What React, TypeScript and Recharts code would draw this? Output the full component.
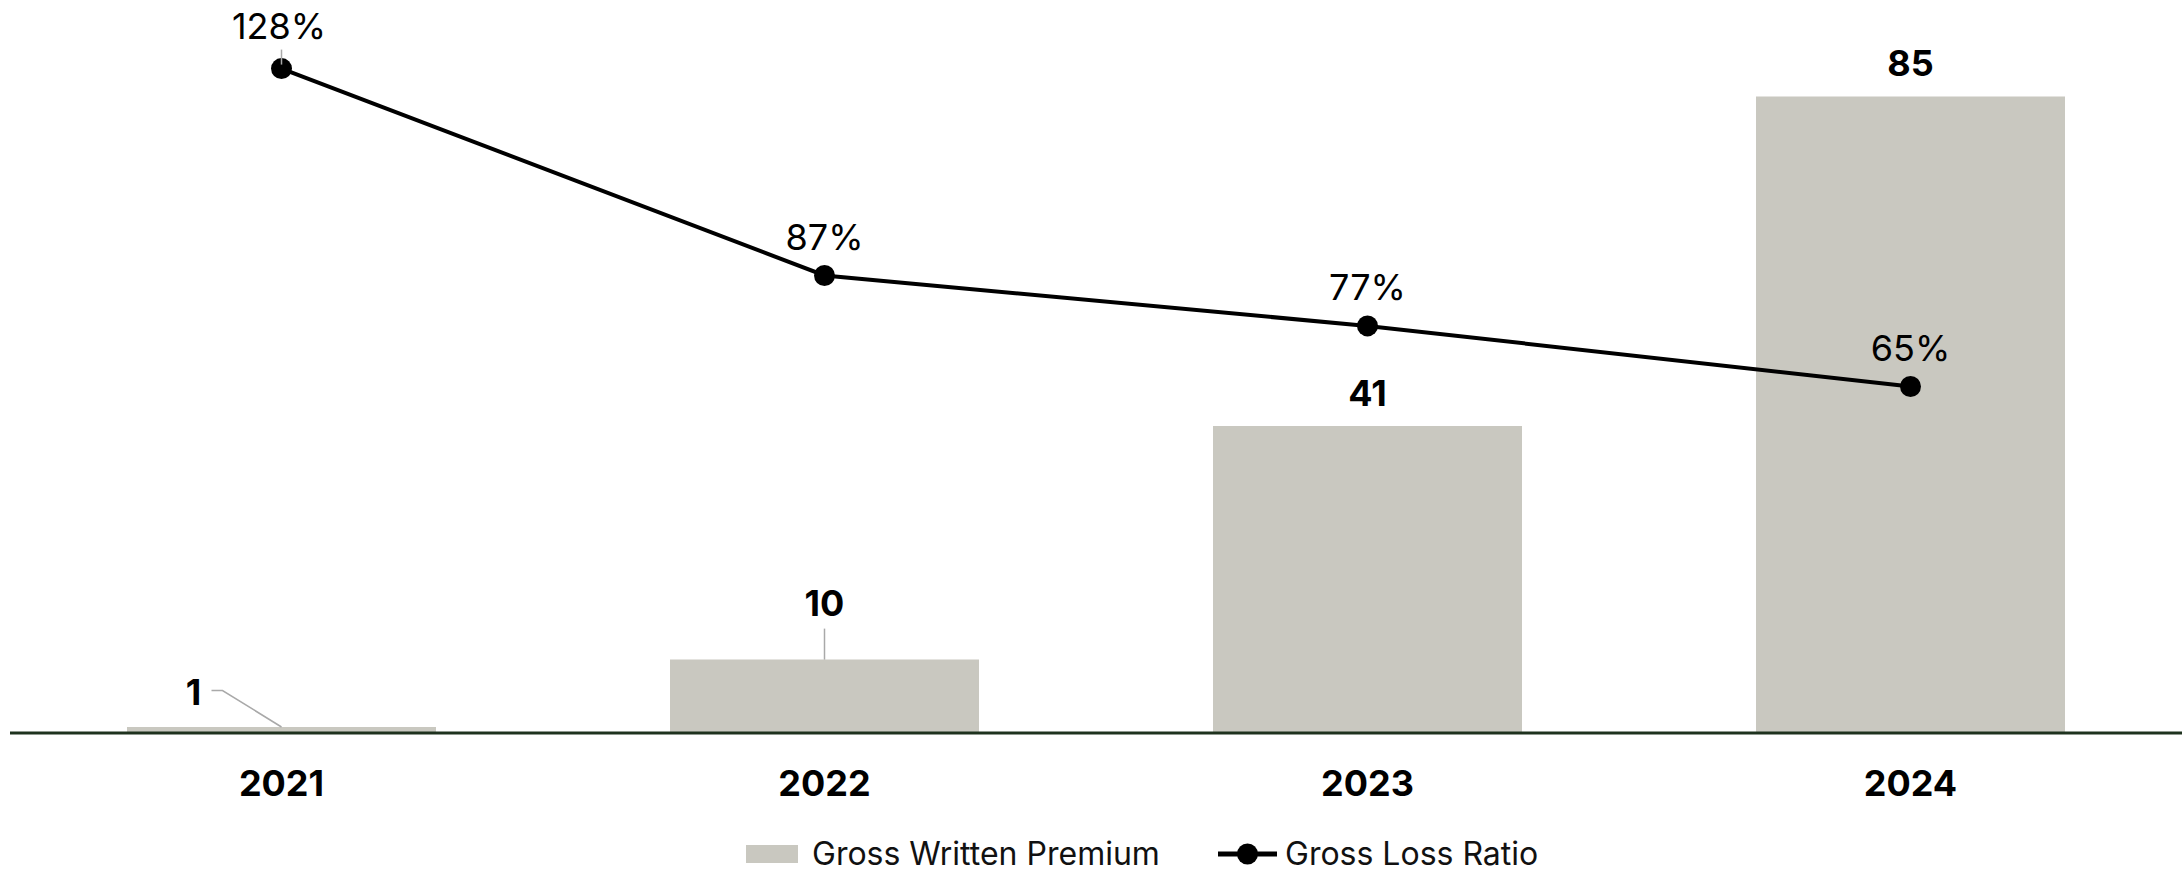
import {
  ComposedChart,
  Bar,
  Line,
  XAxis,
  YAxis,
  Legend,
  LabelList,
} from "recharts";

const years = ["2021", "2022", "2023", "2024"];
const grossWrittenPremium = [0.8, 9.8, 41, 85];
const grossLossRatio = [128, 87, 77, 65];

const data = years.map((year, i) => ({
  year,
  gwp: grossWrittenPremium[i],
  glr: grossLossRatio[i],
}));

const FONT = "Inter, 'Noto Sans', sans-serif";
const BAR_COLOR = "#c9c8c0";
const LEADER = "#a9a9a9";
const INK = "#000";

// cap height of Inter ~0.364em below centre -> baseline
const FS = 36;
const CAP = 13;

const YearTick = (props: any) => {
  const { x, y, payload } = props;
  return (
    <text
      x={x}
      y={y + 63}
      textAnchor="middle"
      fontFamily={FONT}
      fontSize={FS}
      fontWeight={700}
      fill={INK}
    >
      {payload.value}
    </text>
  );
};

const BarValueLabel = (props: any) => {
  const { x, y, width, value, index } = props;
  const cx = x + width / 2;
  const txt = Math.round(value);
  const common = {
    fontFamily: FONT,
    fontSize: FS,
    fontWeight: 700,
    fill: INK,
    textAnchor: "middle" as const,
  };
  if (index === 0) {
    return (
      <g>
        <polyline
          points={`${cx},${y} ${cx - 59},${y - 36.5} ${cx - 70},${y - 36.5}`}
          fill="none"
          stroke={LEADER}
          strokeWidth={1.5}
        />
        <text x={cx - 88} y={y - 35 + CAP} {...common}>
          {txt}
        </text>
      </g>
    );
  }
  if (index === 1) {
    return (
      <g>
        <line x1={cx} x2={cx} y1={y} y2={y - 31} stroke={LEADER} strokeWidth={1.5} />
        <text x={cx} y={y - 56.5 + CAP} {...common}>
          {txt}
        </text>
      </g>
    );
  }
  return (
    <text x={cx} y={y - 33 + CAP} {...common}>
      {txt}
    </text>
  );
};

const RatioLabel = (props: any) => {
  const { x, y, value, index } = props;
  const common = {
    fontFamily: FONT,
    fontSize: FS,
    fontWeight: 400,
    fill: INK,
    textAnchor: "middle" as const,
  };
  if (index === 0) {
    return (
      <g>
        <line x1={x} x2={x} y1={y - 19} y2={y - 4} stroke={LEADER} strokeWidth={1.5} />
        <text x={x - 2.5} y={y - 43 + CAP} {...common}>
          {value}%
        </text>
      </g>
    );
  }
  return (
    <text x={x} y={y - 38.5 + CAP} {...common}>
      {value}%
    </text>
  );
};

const LegendContent = () => (
  <div
    style={{
      display: "flex",
      alignItems: "center",
      height: 32,
      fontFamily: FONT,
      fontSize: 32,
      lineHeight: "32px",
      color: "#111",
      whiteSpace: "nowrap",
    }}
  >
    <span style={{ width: 52, height: 18, background: BAR_COLOR, marginRight: 14 }} />
    <span style={{ width: 406 }}>Gross Written Premium</span>
    <svg width={59} height={22}>
      <line x1={0} x2={59} y1={11} y2={11} stroke={INK} strokeWidth={5} />
      <circle cx={29.5} cy={11} r={10.5} fill={INK} />
    </svg>
    <span style={{ marginLeft: 8 }}>Gross Loss Ratio</span>
  </div>
);

export default function App() {
  return (
    <>
      <style>{"body{margin:0}"}</style>
      <ComposedChart
        width={2182}
        height={870}
        data={data}
        margin={{ top: 59, right: 0, bottom: 0, left: 10 }}
      >
        <XAxis
          dataKey="year"
          axisLine={{ stroke: "#1e321e", strokeWidth: 3 }}
          tickLine={false}
          tickSize={0}
          tickMargin={0}
          interval={0}
          height={105}
          tick={<YearTick />}
        />
        <YAxis yAxisId="gwp" hide domain={[0, 90]} />
        <YAxis yAxisId="glr" hide orientation="right" domain={[-3.67, 129.9]} />
        <Bar
          yAxisId="gwp"
          dataKey="gwp"
          name="Gross Written Premium"
          fill={BAR_COLOR}
          barSize={309}
          isAnimationActive={false}
        >
          <LabelList dataKey="gwp" content={<BarValueLabel />} />
        </Bar>
        <Line
          yAxisId="glr"
          dataKey="glr"
          name="Gross Loss Ratio"
          type="linear"
          stroke={INK}
          strokeWidth={4}
          dot={{ r: 10.5, fill: INK, stroke: "none" }}
          activeDot={false}
          isAnimationActive={false}
        >
          <LabelList dataKey="glr" content={<RatioLabel />} />
        </Line>
        <Legend
          verticalAlign="bottom"
          content={<LegendContent />}
          wrapperStyle={{ left: 746, width: "auto", height: 32, bottom: 0 }}
        />
      </ComposedChart>
    </>
  );
}
